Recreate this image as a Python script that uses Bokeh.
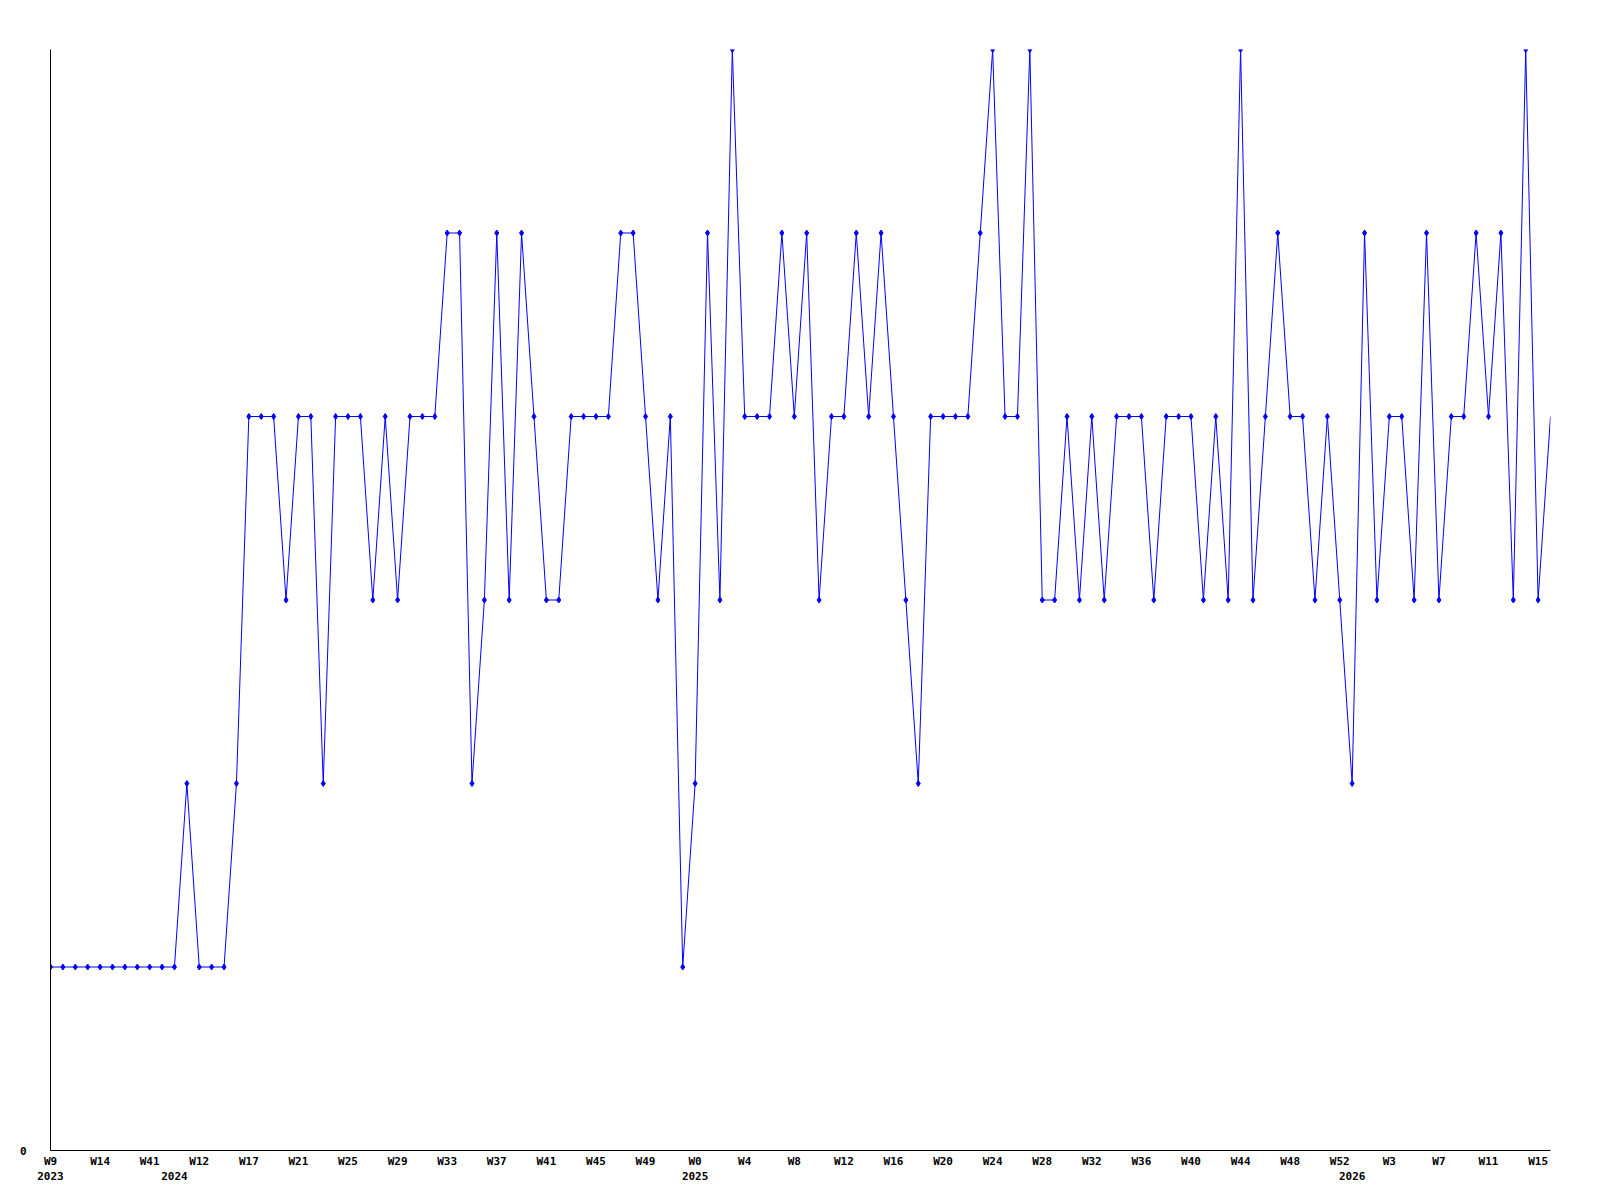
from bokeh.plotting import figure
from bokeh.models import ColumnDataSource, FixedTicker, LinearAxis, Range1d, CDSView, IndexFilter
from bokeh.embed import file_html
from bokeh.resources import INLINE

values = [1, 1, 1, 1, 1, 1, 1, 1, 1, 1, 1, 2, 1, 1, 1, 2, 4, 4, 4, 3,
          4, 4, 2, 4, 4, 4, 3, 4, 3, 4, 4, 4, 5, 5, 2, 3, 5, 3, 5, 4,
          3, 3, 4, 4, 4, 4, 5, 5, 4, 3, 4, 1, 2, 5, 3, 6, 4, 4, 4, 5,
          4, 5, 3, 4, 4, 5, 4, 5, 4, 3, 2, 4, 4, 4, 4, 5, 6, 4, 4, 6,
          3, 3, 4, 3, 4, 3, 4, 4, 4, 3, 4, 4, 4, 3, 4, 3, 6, 3, 4, 5,
          4, 4, 3, 4, 3, 2, 5, 3, 4, 4, 3, 5, 3, 4, 4, 5, 4, 5, 3, 6,
          3, 4]

week_tick_index = [0, 4, 8, 12, 16, 20, 24, 28, 32, 36, 40, 44, 48, 52, 56, 60,
                   64, 68, 72, 76, 80, 84, 88, 92, 96, 100, 104, 108, 112, 116, 120]
week_tick_labels = ["W9", "W14", "W41", "W12", "W17", "W21", "W25", "W29", "W33", "W37",
                    "W41", "W45", "W49", "W0", "W4", "W8", "W12", "W16", "W20", "W24",
                    "W28", "W32", "W36", "W40", "W44", "W48", "W52", "W3", "W7", "W11", "W15"]

year_tick_index = [0, 10, 52, 105]
year_tick_labels = ["2023", "2024", "2025", "2026"]

x = list(range(len(values)))
source = ColumnDataSource(dict(x=x, y=values))

p = figure(width=1584, height=1184, output_backend="svg", toolbar_location=None,
           x_range=Range1d(0, len(values) - 1), y_range=Range1d(0, 6),
           min_border_left=50, min_border_right=34, min_border_top=49, min_border_bottom=34,
           x_axis_location=None, y_axis_location=None)
p.grid.visible = False
p.outline_line_color = None
p.background_fill_color = "white"
p.border_fill_color = "white"

font = "DejaVu Sans Mono"

def style_axis(ax, standoff):
    ax.major_tick_line_color = None
    ax.minor_tick_line_color = None
    ax.major_tick_out = 0
    ax.major_tick_in = 0
    ax.major_label_standoff = standoff
    ax.major_label_text_font = font
    ax.major_label_text_font_style = "bold"
    ax.major_label_text_font_size = "11px"
    ax.major_label_text_color = "black"

xa = LinearAxis(ticker=FixedTicker(ticks=week_tick_index),
                major_label_overrides={i: t for i, t in zip(week_tick_index, week_tick_labels)})
xa.axis_line_color = "black"
xa.axis_line_width = 1
style_axis(xa, 4)
p.add_layout(xa, "below")

xa_year = LinearAxis(ticker=FixedTicker(ticks=year_tick_index),
                     major_label_overrides={i: t for i, t in zip(year_tick_index, year_tick_labels)})
xa_year.axis_line_color = None
style_axis(xa_year, 1)
p.add_layout(xa_year, "below")

yax = LinearAxis(ticker=FixedTicker(ticks=[0]))
yax.axis_line_color = "black"
style_axis(yax, 24)
p.add_layout(yax, "left")

p.line("x", "y", source=source, line_color="#0000ff", line_width=1)
view = CDSView(filter=IndexFilter(list(range(len(values) - 1))))
p.scatter("x", "y", source=source, view=view, marker="diamond", size=6,
          fill_color="#0000ff", line_color="#0000ff")

open("out.html", "w").write(file_html(p, INLINE))
